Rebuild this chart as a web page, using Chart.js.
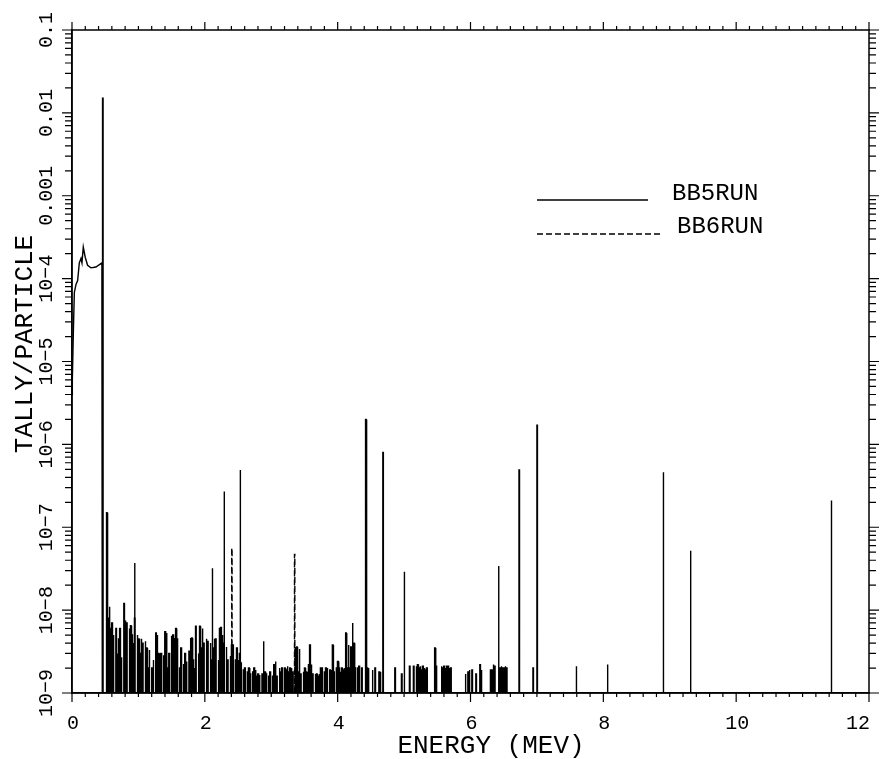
<!DOCTYPE html>
<html><head><meta charset="utf-8">
<script src="https://cdn.jsdelivr.net/npm/chart.js@4.4.1/dist/chart.umd.min.js"></script>
<style>html,body{margin:0;padding:0;background:#fff;}#wrap{width:882px;height:759px;}</style>
</head><body><div id="wrap"><canvas id="c" width="882" height="759"></canvas></div>
<script>
const FONT = "'Liberation Mono', 'DejaVu Sans Mono', monospace";

// Low-energy continuum of BB5RUN (MeV, tally/particle)
const continuumEnergies = [0, 0.005, 0.02, 0.035, 0.06, 0.085, 0.11, 0.135, 0.15, 0.17, 0.2, 0.235, 0.285, 0.36, 0.45];
const continuumValues   = [4e-6, 6e-6, 2.2e-5, 6.8e-5, 8.5e-5, 9.5e-5, 1.55e-4, 1.75e-4, 1.55e-4, 2.4e-4, 1.8e-4, 1.45e-4, 1.35e-4, 1.38e-4, 1.55e-4];

// Discrete lines of BB5RUN
const bb5LineEnergies = [0.46, 0.52, 0.94, 2.11, 2.29, 2.53, 4.42, 4.68, 5.00, 6.42, 6.73, 6.94, 7.00, 7.59, 8.06, 8.90, 9.31, 11.43];
const bb5LineValues   = [1.5e-2, 1.5e-7, 3.7e-8, 3.2e-8, 2.7e-7, 4.9e-7, 2.0e-6, 8.0e-7, 2.9e-8, 3.4e-8, 4.9e-7, 2.0e-9, 1.7e-6, 2.1e-9, 2.2e-9, 4.6e-7, 5.2e-8, 2.1e-7];

// BB5RUN histogram bins (start 0.52 MeV, width 0.02 MeV), values in units of 1e-9
const noiseStart = 0.52;
const noiseStep = 0.02;
const noiseUnit = 1e-9;
const bb5NoiseValues = [
  9, 8, 11, 6, 7,
  5, 0, 6, 3, 4.5,
  6, 2.7, 0, 12, 7.5,
  7, 0, 6, 6.5, 5,
  4, 8, 0, 5, 4.5,
  3, 4.5, 4, 0, 4.2,
  3.5, 2, 3.3, 0, 2,
  2.5, 0, 5.3, 5, 3,
  2.5, 3, 0, 2.8, 5.5,
  5.3, 2, 3, 0, 4.8,
  5, 4.6, 6, 4.5, 0,
  2, 3.5, 0, 2.2, 3,
  2.4, 0, 3.2, 4.6, 4.6,
  2.5, 2, 6.4, 0, 3,
  6.4, 3.5, 6, 4, 0,
  4.5, 4.2, 0, 4, 2.5,
  3.5, 4.5, 4.5, 0, 2.5,
  6, 6.2, 5, 4, 0,
  3.6, 2.5, 0, 2.8, 3.8,
  3.8, 0, 2.5, 3.5, 2.5,
  3, 2.3, 0, 1.9, 2,
  0, 1.8, 2, 1.7, 0,
  1.8, 2, 1.9, 1.6, 1.7,
  1.65, 0, 1.7, 4.2, 1.8,
  1.7, 0, 1.6, 1.8, 0,
  1.6, 2.2, 2.4, 1.6, 0,
  2, 1.8, 2, 0, 2,
  1.9, 2.1, 1.8, 2, 2,
  1.8, 0, 3.6, 3.6, 1.8,
  3.4, 1.7, 0, 1.8, 2,
  1.8, 1.8, 2.2, 3.8, 2.2,
  1.7, 0, 1.7, 1.7, 1.6,
  1.7, 2, 2, 0, 1.8,
  2, 2, 0, 1.9, 1.9,
  3.8, 1.8, 0, 2, 2.4,
  2, 1.8, 2, 1.9, 2,
  5.3, 2, 3.8, 2, 3.6,
  7, 4, 2, 0, 2,
  2.1, 0, 2, 0, 0,
  0, 2, 2, 0, 0,
  1.9, 0, 2, 0, 0,
  1.8, 1.8, 0, 0, 0,
  0, 0, 0, 0, 0,
  0, 0, 2, 0, 0,
  0, 0, 1.7, 0, 0,
  0, 0, 0, 2.1, 0,
  0, 2.1, 0, 2.1, 2.2,
  2, 2.1, 1.9, 2.1, 2,
  1.9, 2, 0, 0, 0,
  0, 0, 3.5, 2.1, 0,
  0, 0, 2.1, 2, 2.1,
  2, 2.1, 2.1, 2, 2,
  0, 0, 0, 0, 0,
  0, 0, 0, 0, 0,
  1.7, 0, 1.8, 1.9, 0,
  1.9, 0, 0, 1.7, 0,
  0, 2.2, 1.9, 0, 0,
  0, 0, 0, 0, 1.9,
  1.9, 2.2, 2.1, 0, 0,
  0, 2, 2.1, 2, 2,
  2.1, 2, 0, 0, 0
];

// BB6RUN lines visible above BB5RUN
const bb6LineEnergies = [2.405, 3.35];
const bb6LineValues   = [5.6e-8, 4.7e-8];

const xTickValues = [0, 2, 4, 6, 8, 10, 12];
const xTickLabels = ['0', '2', '4', '6', '8', '10', '12'];
const yTickValues = [1e-9, 1e-8, 1e-7, 1e-6, 1e-5, 1e-4, 1e-3, 1e-2, 1e-1];
const yTickLabels = ['10\u22129', '10\u22128', '10\u22127', '10\u22126', '10\u22125', '10\u22124', '0.001', '0.01', '0.1'];
const seriesNames = ['BB5RUN', 'BB6RUN'];

// ---- build drawable tables from the data ----
const FLOOR = 1e-12; // zero tally, below the axis floor
function combPoints(items) {
  items.sort((a, b) => a.e - b.e);
  const pts = [];
  for (const it of items) {
    if (!(it.v > 0)) continue;
    pts.push({x: it.e, y: FLOOR}, {x: it.e, y: it.v}, {x: it.e + it.w, y: it.v}, {x: it.e + it.w, y: FLOOR});
  }
  return pts;
}
const bb5Items = [];
bb5NoiseValues.forEach((v, i) => bb5Items.push({e: noiseStart + i * noiseStep, v: v * noiseUnit, w: noiseStep * 0.5}));
bb5LineEnergies.forEach((e, i) => bb5Items.push({e: e, v: bb5LineValues[i], w: 0.008}));
const bb5Points = continuumEnergies.map((e, i) => ({x: e, y: continuumValues[i]})).concat(combPoints(bb5Items));
const bb6Points = combPoints(bb6LineEnergies.map((e, i) => ({e: e, v: bb6LineValues[i], w: 0.005})));

const frameAndText = {
  id: 'frameAndText',
  afterDraw(chart) {
    const ctx = chart.ctx, a = chart.chartArea;
    const xs = chart.scales.x, ys = chart.scales.y;
    ctx.save();
    ctx.strokeStyle = '#000';
    ctx.fillStyle = '#000';
    ctx.lineWidth = 1.5;
    ctx.strokeRect(a.left, a.top, a.right - a.left, a.bottom - a.top);
    ctx.lineWidth = 1.2;
    ctx.beginPath();
    for (let i = 0; i <= 60; i++) {
      const px = xs.getPixelForValue(i * 0.2);
      const major = i % 10 === 0;
      ctx.moveTo(px, a.bottom); ctx.lineTo(px, a.bottom + (major ? 9 : 4));
      ctx.moveTo(px, a.top); ctx.lineTo(px, a.top - (major ? 8 : 4));
    }
    for (let d = -9; d <= -1; d++) {
      for (let m = 1; m <= 9; m++) {
        const v = m * Math.pow(10, d);
        if (v > 0.1000001) break;
        const py = ys.getPixelForValue(v);
        const len = m === 1 ? 10 : 7;
        ctx.moveTo(a.left, py); ctx.lineTo(a.left - len, py);
        ctx.moveTo(a.right, py); ctx.lineTo(a.right + len, py);
      }
    }
    ctx.stroke();
    ctx.textBaseline = 'middle';
    // x tick labels
    ctx.font = '20px ' + FONT;
    xTickValues.forEach((v, i) => {
      const px = xs.getPixelForValue(v);
      const last = i === xTickValues.length - 1;
      ctx.textAlign = last ? 'right' : 'center';
      ctx.fillText(xTickLabels[i], last ? px + 1 : px + 1, 724);
    });
    // y tick labels (rotated)
    ctx.textAlign = 'center';
    yTickValues.forEach((v, i) => {
      const py = ys.getPixelForValue(v);
      ctx.save();
      ctx.translate(47, py);
      ctx.rotate(-Math.PI / 2);
      ctx.fillText(yTickLabels[i], 0, 0);
      ctx.restore();
    });
    // axis titles
    ctx.font = '26px ' + FONT;
    ctx.save();
    ctx.translate(25, 344);
    ctx.rotate(-Math.PI / 2);
    ctx.fillText('TALLY/PARTICLE', 0, 0);
    ctx.restore();
    ctx.fillText('ENERGY (MEV)', 491, 746);
    // legend
    ctx.font = '24px ' + FONT;
    ctx.textAlign = 'left';
    const ds = chart.data.datasets;
    const rows = [{y: 200, ty: 194, x1: 537, x2: 648, tx: 672}, {y: 234, ty: 227, x1: 537, x2: 662, tx: 677}];
    rows.forEach((r, i) => {
      ctx.lineWidth = 1.3;
      ctx.setLineDash(ds[i].borderDash || []);
      ctx.beginPath(); ctx.moveTo(r.x1, r.y); ctx.lineTo(r.x2, r.y); ctx.stroke();
      ctx.setLineDash([]);
      ctx.fillText(ds[i].label, r.tx, r.ty);
    });
    ctx.restore();
  }
};

new Chart(document.getElementById('c'), {
  type: 'line',
  data: {
    datasets: [
      {label: seriesNames[0], data: bb5Points, borderColor: '#000', borderWidth: 1.4, pointRadius: 0, fill: false, tension: 0},
      {label: seriesNames[1], data: bb6Points, borderColor: '#000', borderWidth: 1.4, borderDash: [6, 3], pointRadius: 0, fill: false, tension: 0}
    ]
  },
  options: {
    responsive: false,
    animation: false,
    devicePixelRatio: 1,
    layout: {padding: {top: 30, right: 13, left: 0, bottom: 0}},
    plugins: {legend: {display: false}, tooltip: {enabled: false}},
    scales: {
      x: {
        type: 'linear', min: 0, max: 12,
        afterBuildTicks: (s) => { s.ticks = xTickValues.map(v => ({value: v})); },
        ticks: {display: false},
        grid: {display: false, drawTicks: false},
        border: {display: true, color: '#000', width: 1.5},
        afterFit: (s) => { s.height = 66; }
      },
      y: {
        type: 'logarithmic', min: 1e-9, max: 0.1,
        ticks: {display: false},
        grid: {display: false, drawTicks: false},
        border: {display: true, color: '#000', width: 1.5},
        afterFit: (s) => { s.width = 72; }
      }
    }
  },
  plugins: [frameAndText]
});
</script></body></html>
